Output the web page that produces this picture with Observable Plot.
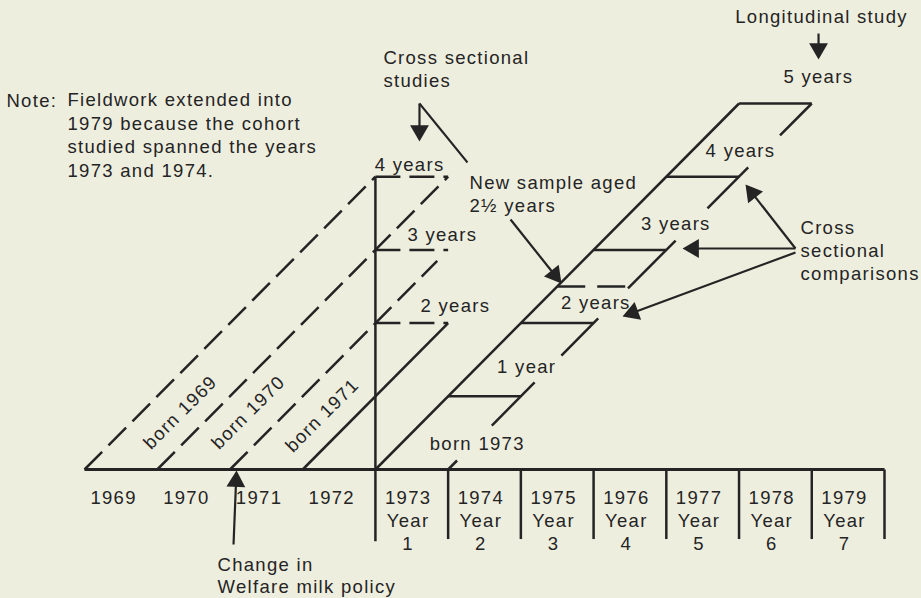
<!DOCTYPE html>
<html><head><meta charset="utf-8">
<script src="https://cdn.jsdelivr.net/npm/d3@7"></script>
<script src="https://cdn.jsdelivr.net/npm/@observablehq/plot@0.6"></script>
<style>html,body{margin:0;padding:0;background:#eeeedf;}</style>
</head><body><div id="chart"></div>
<script>
// ---------- data: x = calendar year, y = age in years ----------
const leftYears = [1969, 1970, 1971, 1972];
const studyYears = [1973, 1974, 1975, 1976, 1977, 1978, 1979];
const studyYearNumbers = [1, 2, 3, 4, 5, 6, 7];
const tickYears = [1974, 1975, 1976, 1977, 1978, 1979, 1980];
const axisStart = 1969, axisEnd = 1980;

// cohort boundaries of the cross-sectional samples (birth year, age reached)
const boundaryStarts = [1969, 1970, 1971, 1972];
const boundaryTops = [4, 4, 2.85, 2];
const boundaryDashed = [true, true, true, false];
const crossYear = 1973;
const crossAges = [4, 3, 2];
const crossLabels = ["4 years", "3 years", "2 years"];
const crossLabelX = [1973.47, 1973.92, 1974.10];
const crossLabelY = [4.153, 3.197, 2.227];
const bornLabels = ["born 1969", "born 1970", "born 1971"];
const bornLabelX = [1970.32, 1971.255, 1972.27];
const bornLabelY = [0.779, 0.779, 0.738];

// longitudinal cohort born 1973
const longCohort = 1973;
const longAges = [1, 2, 3, 4, 5];
const newSampleAge = 2.5;
const longEdgeSegments = [[0, 0.123], [0.601, 1.189], [1.557, 2.063], [2.473, 3.128], [3.566, 4.126], [4.563, 5]];
const longLabels = ["born 1973", "1 year", "2 years", "3 years", "4 years", "5 years"];
const longLabelX = [1974.40, 1975.08, 1976.03, 1977.13, 1978.02, 1979.09];
const longLabelY = [0.342, 1.393, 2.268, 3.347, 4.344, 5.355];

// annotations
const noteLead = "Note:";
const noteBody = "Fieldwork extended into\n1979 because the cohort\nstudied spanned the years\n1973 and 1974.";
const noteX = [1967.927, 1968.766], noteY = [5.137, 5.187];
const annoTexts = ["Cross sectional\nstudies", "New sample aged\n2½ years", "Cross\nsectional\ncomparisons"];
const annoX = [1973.11, 1974.294, 1978.845];
const annoY = [5.772, 4.064, 3.449];
const policyText = "Change in\nWelfare milk policy", policyX = 1970.829, policyY = -1.175;
const titleText = "Longitudinal study", titleX = 1979.134, titleY = 6.182;
const leftLabelY = -0.293, studyLabelY = -0.246;

// arrows: start point and tip
const arrowFrom = [[1973.606, 5.0], [1974.858, 3.415], [1979.093, 5.956], [1978.776, 3.019], [1978.776, 3.019], [1978.776, 2.964], [1971.049, -1.025]];
const arrowTo = [[1973.606, 4.481], [1975.559, 2.541], [1979.093, 5.601], [1978.089, 3.893], [1977.223, 3.019], [1976.398, 2.090], [1971.09, -0.014]];
const studiesHook = [[1974.266, 4.194], [1973.606, 5.0]];

// ---------- build ----------
const INK = "#242424", BG = "#eeeedf";
const XR = [84, 884], YR = [469, 103], YD = [0, 5];
const kx = (XR[1] - XR[0]) / (axisEnd - axisStart), ky = (YR[0] - YR[1]) / (YD[1] - YD[0]);

const solid = [], dashed = [];
boundaryStarts.forEach((b, i) => (boundaryDashed[i] ? dashed : solid).push({x1: b, y1: 0, x2: b + boundaryTops[i], y2: boundaryTops[i]}));
crossAges.forEach(a => dashed.push({x1: crossYear, y1: a, x2: crossYear + 1, y2: a}));
solid.push({x1: crossYear, y1: -0.98, x2: crossYear, y2: d3.max(crossAges)});
tickYears.forEach(t => solid.push({x1: t, y1: 0, x2: t, y2: -0.95}));
solid.push({x1: longCohort, y1: 0, x2: longCohort + 5, y2: 5});
longAges.forEach(a => solid.push({x1: longCohort + a, y1: a, x2: longCohort + a + 1, y2: a}));
longEdgeSegments.forEach(([a0, a1]) => solid.push({x1: longCohort + 1 + a0, y1: a0, x2: longCohort + 1 + a1, y2: a1}));
const newSample = [{x1: longCohort + newSampleAge, y1: newSampleAge, x2: longCohort + newSampleAge + 1, y2: newSampleAge}];
const baseline = [{x1: axisStart, y1: 0, x2: axisEnd, y2: 0}];

const headR = 7;
const tipOffset = 2 * Math.sqrt(Math.PI * headR * headR / (Math.sqrt(3) * 3));
const arrows = arrowFrom.map((f, i) => {
  const [x1, y1] = f, [x2, y2] = arrowTo[i];
  const sx = (x2 - x1) * kx, sy = -(y2 - y1) * ky;
  const L = Math.hypot(sx, sy), ux = sx / L, uy = sy / L;
  const hx = x2 - ux * tipOffset / kx, hy = y2 + uy * tipOffset / ky;
  return {x1, y1, x2: hx, y2: hy, hx, hy, rot: Math.atan2(ux, -uy) * 180 / Math.PI};
});
const hook = [{x1: studiesHook[0][0], y1: studiesHook[0][1], x2: studiesHook[1][0], y2: studiesHook[1][1]}];

const leftLabelRows = leftYears.map(y => ({x: y + 0.4, text: String(y)}));
const studyLabelRows = studyYears.map((y, i) => ({x: y + 0.45, text: `${y}\nYear\n${studyYearNumbers[i]}`}));
const crossRows = crossLabels.map((t, i) => ({x: crossLabelX[i], y: crossLabelY[i], text: t}));
const longRows = longLabels.map((t, i) => ({x: longLabelX[i], y: longLabelY[i], text: t}));
const bornRows = bornLabels.map((t, i) => ({x: bornLabelX[i], y: bornLabelY[i], text: t}));
const annoRows = annoTexts.map((t, i) => ({x: annoX[i], y: annoY[i], text: t}));

const FS = 18.5;
const chart = Plot.plot({
  width: 921, height: 598, margin: 0,
  x: {domain: [axisStart, axisEnd], range: XR, axis: null},
  y: {domain: YD, range: YR, axis: null},
  style: `background:${BG};font-family:'Liberation Sans',Arial,sans-serif;letter-spacing:1.3px;color:${INK};`,
  marks: [
    Plot.link(baseline, {x1: "x1", y1: "y1", x2: "x2", y2: "y2", stroke: INK, strokeWidth: 3}),
    Plot.link(solid, {x1: "x1", y1: "y1", x2: "x2", y2: "y2", stroke: INK, strokeWidth: 2.5}),
    Plot.link(dashed, {x1: "x1", y1: "y1", x2: "x2", y2: "y2", stroke: INK, strokeWidth: 2.5, strokeDasharray: "25,9"}),
    Plot.link(newSample, {x1: "x1", y1: "y1", x2: "x2", y2: "y2", stroke: INK, strokeWidth: 2.5, strokeDasharray: "28,12"}),
    Plot.link(hook, {x1: "x1", y1: "y1", x2: "x2", y2: "y2", stroke: INK, strokeWidth: 2}),
    Plot.link(arrows, {x1: "x1", y1: "y1", x2: "x2", y2: "y2", stroke: INK, strokeWidth: 2.2}),
    Plot.dot(arrows, {x: "hx", y: "hy", symbol: "triangle", r: headR, rotate: "rot", fill: INK, stroke: "none"}),
    Plot.text(bornRows, {x: "x", y: "y", text: "text", rotate: -45, fontSize: FS, fill: INK}),
    Plot.text(crossRows, {x: "x", y: "y", text: "text", fontSize: FS, fill: INK}),
    Plot.text(longRows, {x: "x", y: "y", text: "text", fontSize: FS, fill: INK}),
    Plot.text(annoRows, {x: "x", y: "y", text: "text", textAnchor: "start", lineAnchor: "top", lineHeight: 1.26, fontSize: FS, fill: INK}),
    Plot.text([policyText], {x: policyX, y: policyY, text: d => d, textAnchor: "start", lineAnchor: "top", lineHeight: 1.19, fontSize: FS, fill: INK}),
    Plot.text([titleText], {x: titleX, y: titleY, text: d => d, fontSize: FS, fill: INK}),
    Plot.text([noteLead], {x: noteX[0], y: noteY[0], text: d => d, textAnchor: "start", lineAnchor: "top", fontSize: FS, fill: INK}),
    Plot.text([noteBody], {x: noteX[1], y: noteY[1], text: d => d, textAnchor: "start", lineAnchor: "top", lineHeight: 1.27, fontSize: FS, fill: INK}),
    Plot.text(leftLabelRows, {x: "x", y: leftLabelY, text: "text", lineAnchor: "top", fontSize: FS, fill: INK}),
    Plot.text(studyLabelRows, {x: "x", y: studyLabelY, text: "text", lineAnchor: "top", lineHeight: 1.25, fontSize: FS, fill: INK})
  ]
});
document.getElementById("chart").appendChild(chart);
</script>
</body></html>
